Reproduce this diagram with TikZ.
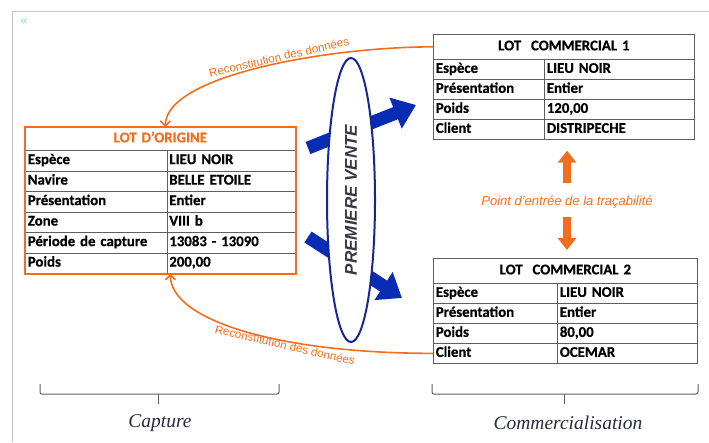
\documentclass[tikz,border=0pt]{standalone}
\usepackage{fontspec}
\setmainfont{Liberation Serif}
\newfontfamily\tabfont{Carlito}[WordSpace=0.7, BoldFeatures={FakeBold=0.6}]
\newfontfamily\arialfont{Liberation Sans}
\usetikzlibrary{arrows.meta,shapes.geometric}

\definecolor{lotorange}{RGB}{242,110,30}
\definecolor{venteblue}{RGB}{8,44,180}
\definecolor{venteline}{RGB}{22,38,150}
\definecolor{ventetext}{RGB}{55,55,65}
\definecolor{gridgray}{RGB}{95,95,95}
\definecolor{framegray}{RGB}{195,195,195}
\definecolor{phasetext}{RGB}{40,40,65}

\tikzset{
  cell/.style={draw=gridgray, line width=0.7pt, anchor=north west, inner xsep=2.5pt, inner ysep=0pt,
    text height=10pt, text depth=3pt, align=left, font=\tabfont\bfseries\fontsize{14.8}{15}\selectfont},
  titlecell/.style={cell, align=center},
  recon/.style={lotorange, line width=1.6pt, -{Straight Barb[length=5pt, width=10pt]}},
  reconlabel/.style={text=lotorange, inner sep=0pt, font=\arialfont\fontsize{11.6}{12}\selectfont},
  venteblock/.style={venteblue, line width=13pt, -{Triangle[length=22pt, width=32pt]}},
  traceblock/.style={lotorange, line width=8pt, -{Triangle[length=12pt, width=18pt]}},
  brace/.style={gridgray, line width=1pt, rounded corners=2pt},
  phase/.style={text=phasetext, font=\itshape\fontsize{19.5}{20}\selectfont}
}

\begin{document}
\begin{tikzpicture}[x=1pt, y=-1pt]
    \useasboundingbox (0,0) rectangle (709,442);

    % cadre
    \draw[framegray, line width=1pt] (12,442) -- (12,11) -- (709,11);
    \node[text=framegray!60!cyan, font=\arialfont\fontsize{12}{12}\selectfont] (icon) at (24,22) {«};

    % LOT D'ORIGINE (gauche)
    \node[titlecell, text width=265pt, minimum height=23pt, text=lotorange] (ot) at (25,127) {LOT D’ORIGINE};
    \foreach \a/\b [count=\i from 0] in {Espèce/LIEU NOIR, Navire/BELLE ETOILE, Présentation/Entier,
        Zone/VIII b, Période de capture/13083 - 13090, Poids/{200,00}} {
      \node[cell, text width=136.5pt, minimum height=20.5pt] (oa\i) at (25,{150+20.5*\i}) {\a};
      \node[cell, text width=123.5pt, minimum height=20.5pt] (ob\i) at (166.5,{150+20.5*\i}) {\b};
    }
    \draw[lotorange, line width=2pt] (ot.north west) rectangle (ob5.south east);
    \coordinate (origbot) at (ot.north |- oa5.south);

    % LOT COMMERCIAL 1 (haut droite)
    \node[titlecell, text width=256pt, minimum height=25pt] (c1t) at (433,34) {LOT\ \ COMMERCIAL 1};
    \foreach \a/\b [count=\i from 0] in {Espèce/LIEU NOIR, Présentation/Entier, Poids/{120,00}, Client/DISTRIPECHE} {
      \node[cell, text width=106pt, minimum height=20pt] (c1a\i) at (433,{59+20*\i}) {\a};
      \node[cell, text width=145pt, minimum height=20pt] (c1b\i) at (544,{59+20*\i}) {\b};
    }

    % LOT COMMERCIAL 2 (bas droite)
    \node[titlecell, text width=259pt, minimum height=25pt] (c2t) at (433,258) {LOT\ \ COMMERCIAL 2};
    \foreach \a/\b [count=\i from 0] in {Espèce/LIEU NOIR, Présentation/Entier, Poids/{80,00}, Client/OCEMAR} {
      \node[cell, text width=119pt, minimum height=20pt] (c2a\i) at (433,{283+20*\i}) {\a};
      \node[cell, text width=135pt, minimum height=20pt] (c2b\i) at (557,{283+20*\i}) {\b};
    }

    % premiere vente : fleches bleues puis ellipse par-dessus
    \coordinate (v1s) at (308,148); \coordinate (v1e) at (416,105);
    \coordinate (v2s) at (308,237); \coordinate (v2e) at (402,298);
    \draw[venteblock] (v1s) -- (v1e);
    \draw[venteblock] (v2s) -- (v2e);
    \node[ellipse, draw=venteline, line width=2pt, fill=white, rotate=90, minimum width=284pt, minimum height=48pt,
        text=ventetext, font=\arialfont\bfseries\itshape\fontsize{17}{17}\selectfont] (vente) at (351,200) {PREMIERE VENTE};

    % reconstitution des donnees
    \draw[recon] (c1t.west) .. controls +(-103,0) and +(0,-52) .. ([xshift=5pt]ot.north);
    \draw[recon] (c2a3.west) .. controls +(-153,0) and +(0,47) .. ([xshift=10pt]origbot);
    \node[reconlabel, rotate=13] (rl1) at (279,57) {Reconstitution des données};
    \node[reconlabel, rotate=-13] (rl2) at (285,345) {Reconstitution des données};

    % point d'entree de la tracabilite
    \node[text=lotorange, inner sep=0pt, text height=9pt, text depth=3pt,
        font=\arialfont\itshape\fontsize{13}{13}\selectfont] (trace) at (567,202) {Point d’entrée de la traçabilité};
    \draw[traceblock, shorten <=13pt, shorten >=11pt] (trace.north) -- (trace.north |- c1b3.south);
    \draw[traceblock, shorten <=9pt, shorten >=8pt] (trace.south) -- (trace.south |- c2t.north);

    % accolades
    \foreach \l/\r/\m in {40/279/158, 432/698/564} {
      \draw[brace] (\l,384) -- (\l,394) -- (\r,394) -- (\r,384);
      \draw[brace] (\m,394) -- (\m,404);
    }
    \node[phase] (capture) at (160,423) {Capture};
    \node[phase] (commerce) at (568,423) {Commercialisation};
\end{tikzpicture}
\end{document}
